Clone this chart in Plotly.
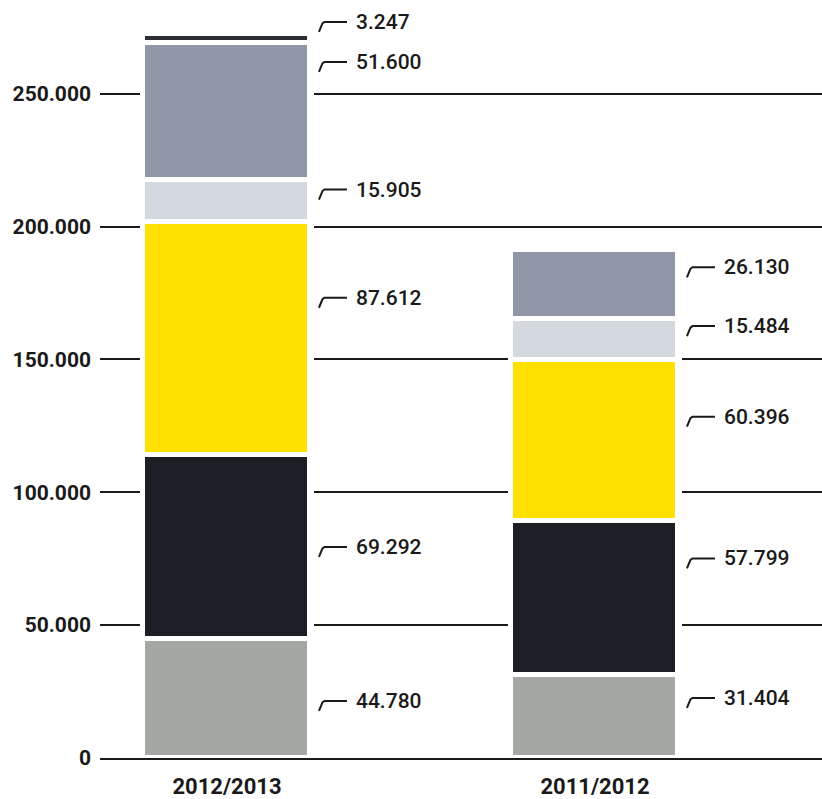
import plotly.graph_objects as go

# ---- data ----
years = ["2012/2013", "2011/2012"]
seg_gray = [44780, 31404]
seg_black = [69292, 57799]
seg_yellow = [87612, 60396]
seg_light = [15905, 15484]
seg_blue = [51600, 26130]
seg_dark = [3247, 0]
y_ticks = [0, 50000, 100000, 150000, 200000, 250000]

series = [seg_gray, seg_black, seg_yellow, seg_light, seg_blue, seg_dark]
colors = ["#a4a7a2", "#1b1f25", "#ffe100", "#d4d8df", "#8e96a7", "#2c2e35"]
# label placement inside each segment (fraction of segment height), per bar
label_frac = [[0.48, 0.72], [0.50, 0.756], [0.675, 0.65], [0.77, 0.836], [0.86, 0.75], [2.41, 0]]


def de_fmt(v):
    return f"{v:,}".replace(",", ".")


xpos = list(range(len(years)))
totals = [sum(s[i] for s in series) for i in xpos]

fig = go.Figure()

# white halo behind bars (cuts the gridlines around each bar)
fig.add_trace(go.Bar(x=xpos, y=totals, width=0.472, marker=dict(color="white", line=dict(width=0)),
                     xaxis="x", yaxis="y", hoverinfo="skip", showlegend=False))

for s, c in zip(series, colors):
    fig.add_trace(go.Bar(x=xpos, y=s, width=0.454, xaxis="x2", yaxis="y",
                         marker=dict(color=c, line=dict(color="white", width=5)),
                         showlegend=False))

annotations = []
shapes = []
for i in xpos:
    base = 0
    for k, s in enumerate(series):
        v = s[i]
        if v > 0:
            ly = base + label_frac[k][i] * v
            annotations.append(dict(x=i, y=ly, xref="x", yref="y", text=de_fmt(v), showarrow=False,
                                    xanchor="left", yanchor="middle", xshift=127,
                                    font=dict(family="Roboto", size=21, color="#1a1a1a", weight=500)))
            shapes.append(dict(type="path", xref="x", yref="y", xsizemode="pixel", ysizemode="pixel",
                               xanchor=i, yanchor=ly, path="M 92 -10 L 95.5 -1.5 L 97.5 0 L 120 0",
                               line=dict(color="#1a1a1a", width=2), layer="above"))
        base += v

xrange = [-0.345, 1.617]
fig.update_layout(
    width=822, height=799,
    margin=dict(l=100, r=0, t=10, b=39),
    paper_bgcolor="white", plot_bgcolor="white",
    barmode="stack",
    bargap=0,
    xaxis=dict(range=xrange, tickvals=xpos, ticktext=years, showgrid=False, zeroline=False,
               showline=True, linecolor="#1a1a1a", linewidth=2, ticks="",
               tickfont=dict(family="Roboto", size=22, color="#1a1a1a", weight="bold"),
               ticklabelstandoff=8),
    xaxis2=dict(range=xrange, overlaying="x", visible=False),
    yaxis=dict(range=[0, 281500], tickvals=y_ticks, ticktext=[de_fmt(t) for t in y_ticks],
               showgrid=True, gridcolor="#1a1a1a", gridwidth=2, zeroline=False, showline=False,
               ticks="", ticklabelstandoff=8,
               tickfont=dict(family="Roboto", size=21, color="#1a1a1a", weight="bold")),
    annotations=annotations,
    shapes=shapes,
)

fig.write_html("out.html")
